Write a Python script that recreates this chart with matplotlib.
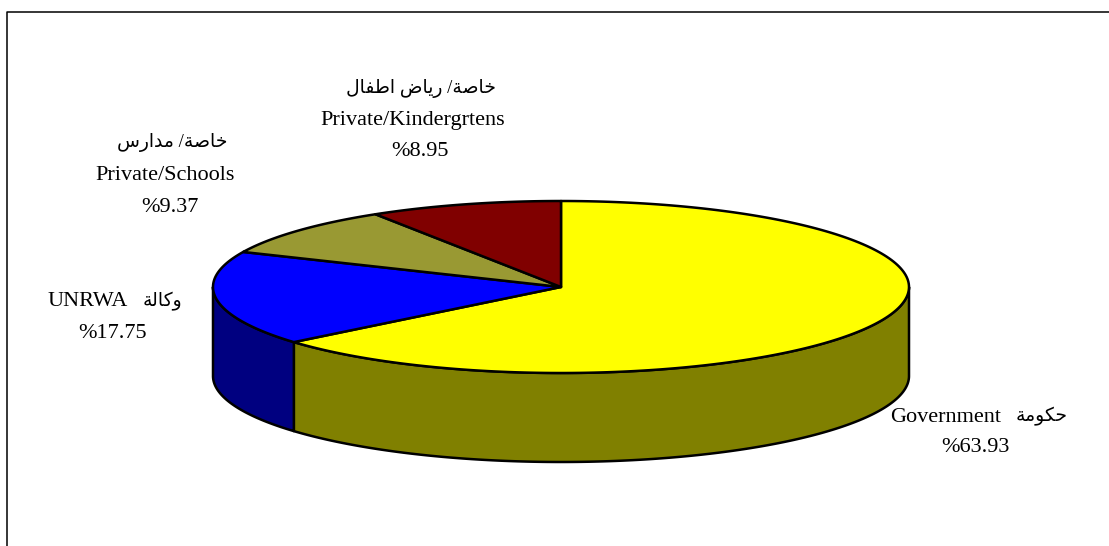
import numpy as np
import matplotlib
matplotlib.use("Agg")
import matplotlib.pyplot as plt
from matplotlib.patches import Polygon

# Share of students by supervising authority (percent)
names = ["Government", "UNRWA", "Private/Schools", "Private/Kindergrtens"]
values = [63.93, 17.75, 9.37, 8.95]
top_colors = ["#FFFF00", "#0000FF", "#999933", "#800000"]
side_colors = ["#808000", "#000080", "#666622", "#500000"]

# Arabic in presentation forms, reversed because matplotlib does no bidi
arabic_gov = "\uFEA3\uFEDC\uFEEE\uFEE3\uFE94"[::-1]
arabic_unrwa = "\uFEED\uFEDB\uFE8E\uFEDF\uFE94"[::-1]
arabic_schools = "\uFEE3\uFEAA\uFE8D\uFEAD\uFEB1"[::-1] + " /" + "\uFEA7\uFE8E\uFEBB\uFE94"[::-1]
arabic_kg = "\uFE8D\uFEC3\uFED4\uFE8E\uFEDD"[::-1] + " " + "\uFEAD\uFEF3\uFE8E\uFEBD"[::-1] + " /" + "\uFEA7\uFE8E\uFEBB\uFE94"[::-1]

# Pie geometry in image pixels
cx, cy = 561, 287
rx, ry = 348, 86
depth = 89

serif = ["Liberation Serif", "DejaVu Sans"]

fig = plt.figure(figsize=(11.09, 5.46), dpi=100)
ax = fig.add_axes([0, 0, 1, 1])
ax.set_xlim(0, 1109)
ax.set_ylim(546, 0)
ax.axis("off")

# Chart border, only the top and left sides show
ax.plot([7.2, 7.2, 1109], [546, 11.8, 11.8], color="black", lw=1.1)


def rim(a0, a1):
    t = np.radians(np.linspace(a0, a1, 200))
    return cx + rx * np.cos(t), cy - ry * np.sin(t)


# Slices run clockwise from twelve o'clock
ends = 90 - np.cumsum(values) * 3.6
starts = np.r_[90, ends[:-1]]

# Side walls only exist on the front half of the ellipse
for a0, a1, col in zip(starts, ends, side_colors):
    lo, hi = max(a1, -180), min(a0, 0)
    if lo >= hi:
        continue
    x, y = rim(hi, lo)
    xs = np.r_[x, x[::-1]]
    ys = np.r_[y, y[::-1] + depth]
    ax.add_patch(Polygon(np.c_[xs, ys], closed=True, fc=col, ec="black", lw=1.8, joinstyle="round"))

for a0, a1, col in zip(starts, ends, top_colors):
    x, y = rim(a0, a1)
    xs = np.r_[cx, x]
    ys = np.r_[cy, y]
    ax.add_patch(Polygon(np.c_[xs, ys], closed=True, fc=col, ec="black", lw=1.8, joinstyle="round"))

fs = 16
fs_ar = 13.5


def pct(v):
    return "%" + f"{v:.2f}"


ax.text(1068, 416, arabic_gov, family=serif, fontsize=fs_ar, ha="right", va="center")
ax.text(890, 417, names[0], family=serif, fontsize=fs, ha="left", va="center")
ax.text(975, 447, pct(values[0]), family=serif, fontsize=fs, ha="center", va="center")

ax.text(182, 301, arabic_unrwa, family=serif, fontsize=fs_ar, ha="right", va="center")
ax.text(48, 302, names[1], family=serif, fontsize=fs, ha="left", va="center")
ax.text(113, 333, pct(values[1]), family=serif, fontsize=fs, ha="center", va="center")

ax.text(227, 143, arabic_schools, family=serif, fontsize=fs_ar, ha="right", va="center")
ax.text(165, 176, names[2], family=serif, fontsize=fs, ha="center", va="center")
ax.text(170, 207, pct(values[2]), family=serif, fontsize=fs, ha="center", va="center")

ax.text(496, 88, arabic_kg, family=serif, fontsize=fs_ar, ha="right", va="center")
ax.text(412.5, 121, names[3], family=serif, fontsize=fs, ha="center", va="center")
ax.text(420.5, 152, pct(values[3]), family=serif, fontsize=fs, ha="center", va="center")

fig.savefig("out.png", dpi=100)
